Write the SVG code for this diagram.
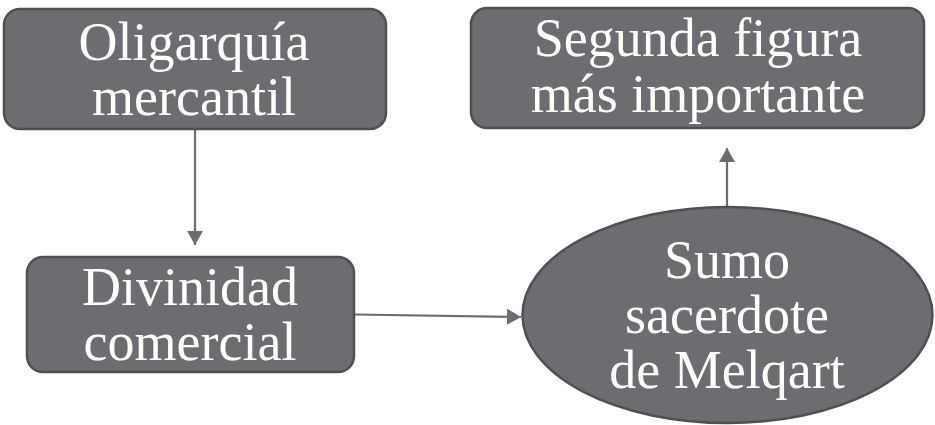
<svg xmlns="http://www.w3.org/2000/svg" width="935" height="425" viewBox="0 0 935 425">
  <style>
    .node { fill: #6d6c71; stroke: #505054; stroke-width: 2.5; }
    .lbl { font-family: "Liberation Serif", "DejaVu Serif", serif; font-size: 54px; fill: #ffffff; text-anchor: middle; }
    .edge { fill: none; stroke: #6d6c71; stroke-width: 2.2; }
  </style>
  <defs>
    <marker id="arrow" markerUnits="userSpaceOnUse" markerWidth="16" markerHeight="18" refX="14" refY="8" orient="auto">
      <path d="M0,0 L14,8 L0,16 Z" fill="#6d6c71"/>
    </marker>
  </defs>
  <rect width="935" height="425" fill="#ffffff"/>
  <g id="connectors">
    <line class="edge" x1="195" y1="130" x2="195" y2="245" marker-end="url(#arrow)"/>
    <line class="edge" x1="355" y1="314.5" x2="521" y2="317" marker-end="url(#arrow)"/>
    <line class="edge" x1="727" y1="207" x2="727" y2="148" marker-end="url(#arrow)"/>
  </g>
  <g id="oligarquia">
    <rect class="node" x="4" y="9" width="382" height="120" rx="16"/>
    <text class="lbl" x="194" y="60">Oligarquía</text>
    <text class="lbl" x="194" y="115">mercantil</text>
  </g>
  <g id="divinidad">
    <rect class="node" x="27" y="257" width="327" height="115" rx="16"/>
    <text class="lbl" x="190" y="305">Divinidad</text>
    <text class="lbl" x="190" y="360">comercial</text>
  </g>
  <g id="segunda">
    <rect class="node" x="471" y="8" width="453" height="120" rx="16"/>
    <text class="lbl" x="698" y="56">Segunda figura</text>
    <text class="lbl" x="698" y="112">más importante</text>
  </g>
  <g id="sumo">
    <ellipse class="node" cx="727.5" cy="315" rx="205" ry="108"/>
    <text class="lbl" x="727" y="278">Sumo</text>
    <text class="lbl" x="727" y="333">sacerdote</text>
    <text class="lbl" x="727" y="388">de Melqart</text>
  </g>
</svg>
